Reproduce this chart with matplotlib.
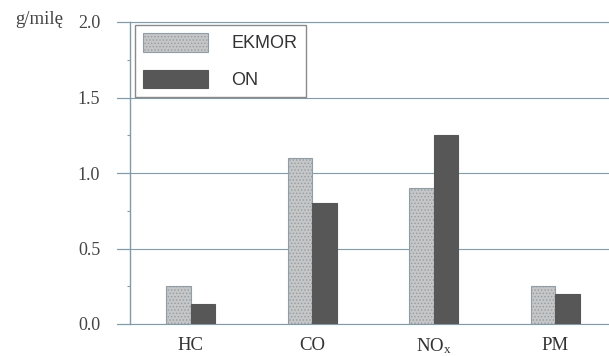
import numpy as np
import matplotlib.pyplot as plt
from matplotlib.ticker import MultipleLocator

categories = ['HC', 'CO', 'NO$_x$', 'PM']
ekmor = [0.25, 1.1, 0.9, 0.25]
on = [0.13, 0.8, 1.25, 0.2]
series_names = ['EKMOR', 'ON']
yticks = [0.0, 0.5, 1.0, 1.5, 2.0]

line_col = '#7f9cac'
plt.rcParams['hatch.color'] = '#a8a8a8'
plt.rcParams['hatch.linewidth'] = 0.6
plt.rcParams['mathtext.fontset'] = 'custom'
plt.rcParams['mathtext.rm'] = 'Liberation Serif'
plt.rcParams['mathtext.it'] = 'Liberation Serif'

fig = plt.figure(figsize=(6.09, 3.56), dpi=100)
ax = fig.add_axes([130 / 609, 1 - 324 / 356, 486 / 609, 302 / 356])

x = np.arange(len(categories))
w = 0.2
ax.bar(x - w / 2, ekmor, w, color='#c6c6c6', edgecolor='#8f9ea6', linewidth=0.8,
       hatch='.....', label=series_names[0], zorder=3)
ax.bar(x + w / 2, on, w, color='#575757', edgecolor='#575757', linewidth=0.8,
       label=series_names[1], zorder=3)

ax.set_xlim(-0.5, 3.5)
ax.set_ylim(0, 2.0)
ax.set_yticks(yticks)
ax.yaxis.set_minor_locator(MultipleLocator(0.25))
ax.set_yticklabels([f'{v:.1f}' for v in yticks], family='Liberation Serif',
                   fontsize=13, color='#444444')
ax.set_xticks(x)
ax.set_xticklabels(['HC', 'CO', 'NO$_\\mathrm{x}$', 'PM'], family='Liberation Serif',
                   fontsize=13.5, color='#333333')
ax.tick_params(axis='x', length=0, pad=9)
ax.tick_params(axis='y', which='major', direction='out', length=9.5, width=0.8,
               color=line_col, pad=12, left=True)
ax.tick_params(axis='y', which='minor', direction='out', length=2.5, width=0.8,
               color=line_col)

ax.grid(axis='y', which='major', color=line_col, linewidth=0.8, zorder=0)
for s in ['top', 'right']:
    ax.spines[s].set_visible(False)
ax.spines['left'].set_color(line_col)
ax.spines['bottom'].set_color(line_col)
ax.spines['left'].set_linewidth(1.0)
ax.spines['bottom'].set_linewidth(0.8)
ax.axhline(2.0, color=line_col, linewidth=0.8, clip_on=False, zorder=0)
# major ticks drawn as short lines left of the spine
for v in yticks:
    ax.plot([-0.5 - 13 / 121, -0.5], [v, v], color=line_col, linewidth=0.8,
            clip_on=False, zorder=0)

fig.text(15 / 609, 1 - 20 / 356, 'g/milę', family='Liberation Serif', fontsize=13.5,
         color='#444444', va='center', ha='left')

leg = ax.legend(loc='upper left', bbox_to_anchor=(5 / 486, 1 - 3 / 302), frameon=True,
                fancybox=False, edgecolor='#8a8a8a', framealpha=1,
                prop={'family': 'Liberation Sans', 'size': 13},
                handlelength=3.6, handleheight=1.2, handletextpad=1.3,
                labelspacing=0.95, borderpad=0.45, borderaxespad=0)
for t in leg.get_texts():
    t.set_color('#333333')

fig.savefig('out.png', dpi=100)
